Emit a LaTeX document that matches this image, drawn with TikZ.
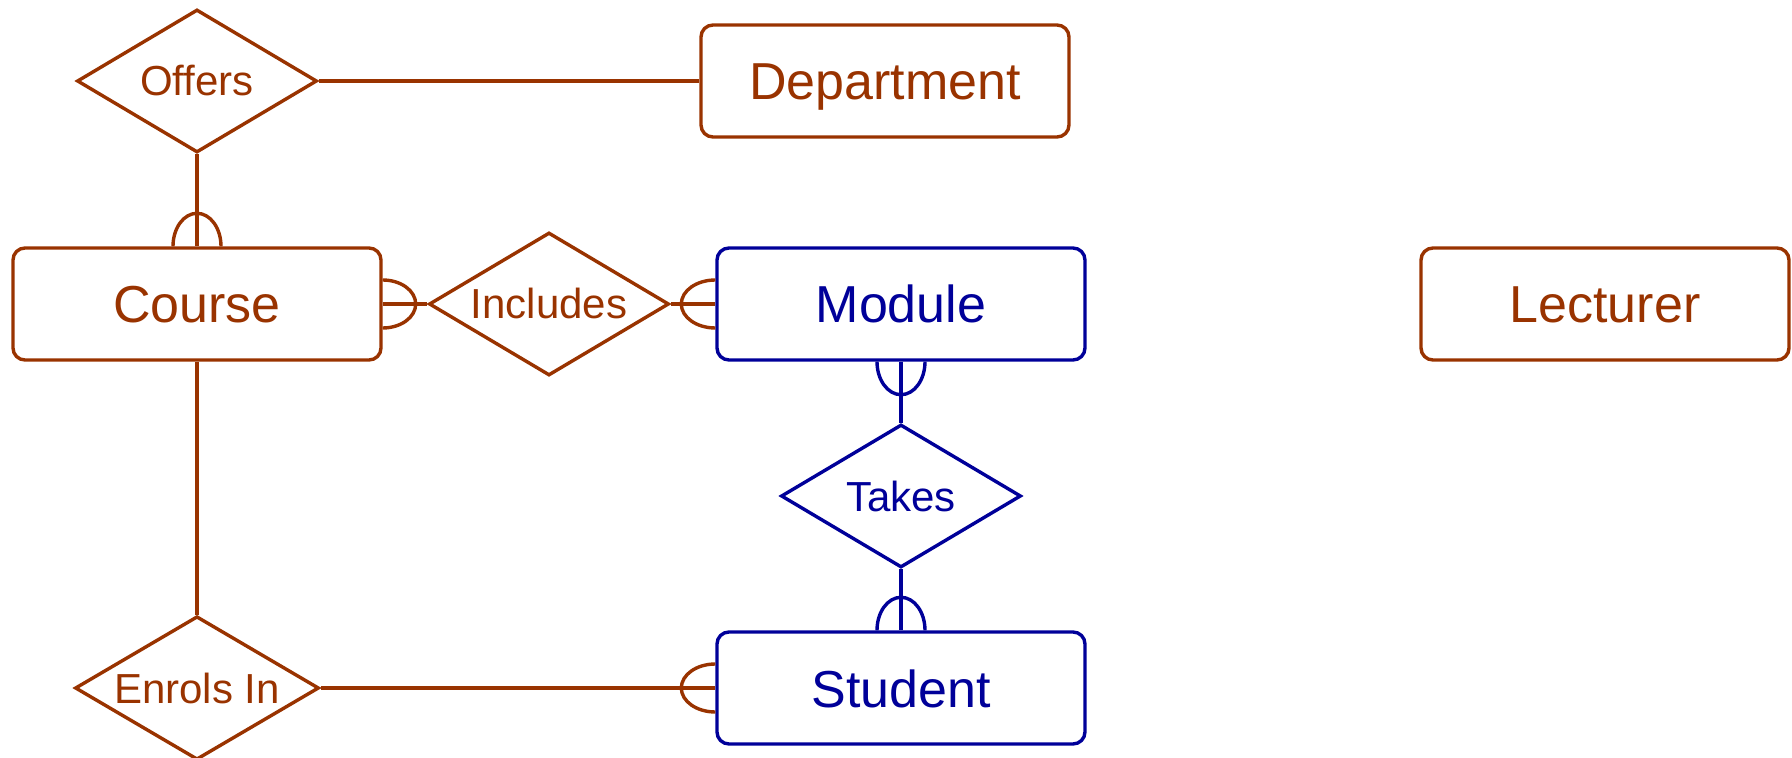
\documentclass[tikz,border=0pt]{standalone}
\usepackage{fontspec}
\setmainfont{Liberation Sans}
\usetikzlibrary{shapes.geometric}
\definecolor{relcol}{HTML}{993300}
\definecolor{entcol}{HTML}{000099}
\tikzstyle{entity}=[draw,rounded corners=6pt,minimum width=184pt,minimum height=56pt,line width=1.7pt,text height=24pt,text depth=5pt,font=\fontsize{26}{30}\selectfont]
\tikzstyle{relation}=[draw,diamond,aspect=1.7,inner sep=0pt,minimum width=120pt,minimum height=71.5pt,line width=1.7pt,text height=19pt,text depth=4pt,font=\fontsize{21}{25}\selectfont]
\tikzstyle{link}=[line width=1.7pt]

\begin{document}
\begin{tikzpicture}[x=0.5pt,y=-0.5pt]
  \useasboundingbox (0,0) rectangle (1792,758);
  % Entities
  \node[entity,relcol] (dept) at (885,81) {Department};
  \node[entity,relcol] (course) at (197,304) {Course};
  \node[entity,entcol] (module) at (901,304) {Module};
  \node[entity,relcol] (lecturer) at (1605,304) {Lecturer};
  \node[entity,entcol] (student) at (901,688) {Student};
  % Relationships
  \node[relation,relcol] (offers) at (197,81) {Offers};
  \node[relation,relcol] (includes) at (549,304) {Includes};
  \node[relation,entcol] (takes) at (901,496) {Takes};
  \node[relation,relcol] (enrols) at (197,688) {Enrols In};
  % Links
  \draw[link,relcol] (offers) -- (dept);
  \draw[link,relcol] (offers) -- (course);
  \draw[link,relcol] (course) -- (includes);
  \draw[link,relcol] (includes) -- (module);
  \draw[link,entcol] (module) -- (takes);
  \draw[link,entcol] (takes) -- (student);
  \draw[link,relcol] (course) -- (enrols);
  \draw[link,relcol] (enrols) -- (student);
  % Many ends
  \draw[link,relcol] (course.north) +(-24,0) arc[start angle=180,end angle=0,x radius=12pt,y radius=16.5pt];
  \draw[link,relcol] (course.east) +(0,24) arc[start angle=-90,end angle=90,x radius=16.5pt,y radius=12pt];
  \draw[link,relcol] (module.west) +(0,24) arc[start angle=270,end angle=90,x radius=17pt,y radius=12pt];
  \draw[link,entcol] (module.south) +(-24,0) arc[start angle=180,end angle=360,x radius=12pt,y radius=16.5pt];
  \draw[link,entcol] (student.north) +(-24,0) arc[start angle=180,end angle=0,x radius=12pt,y radius=16.5pt];
  \draw[link,relcol] (student.west) +(0,24) arc[start angle=270,end angle=90,x radius=17pt,y radius=12pt];
\end{tikzpicture}
\end{document}
